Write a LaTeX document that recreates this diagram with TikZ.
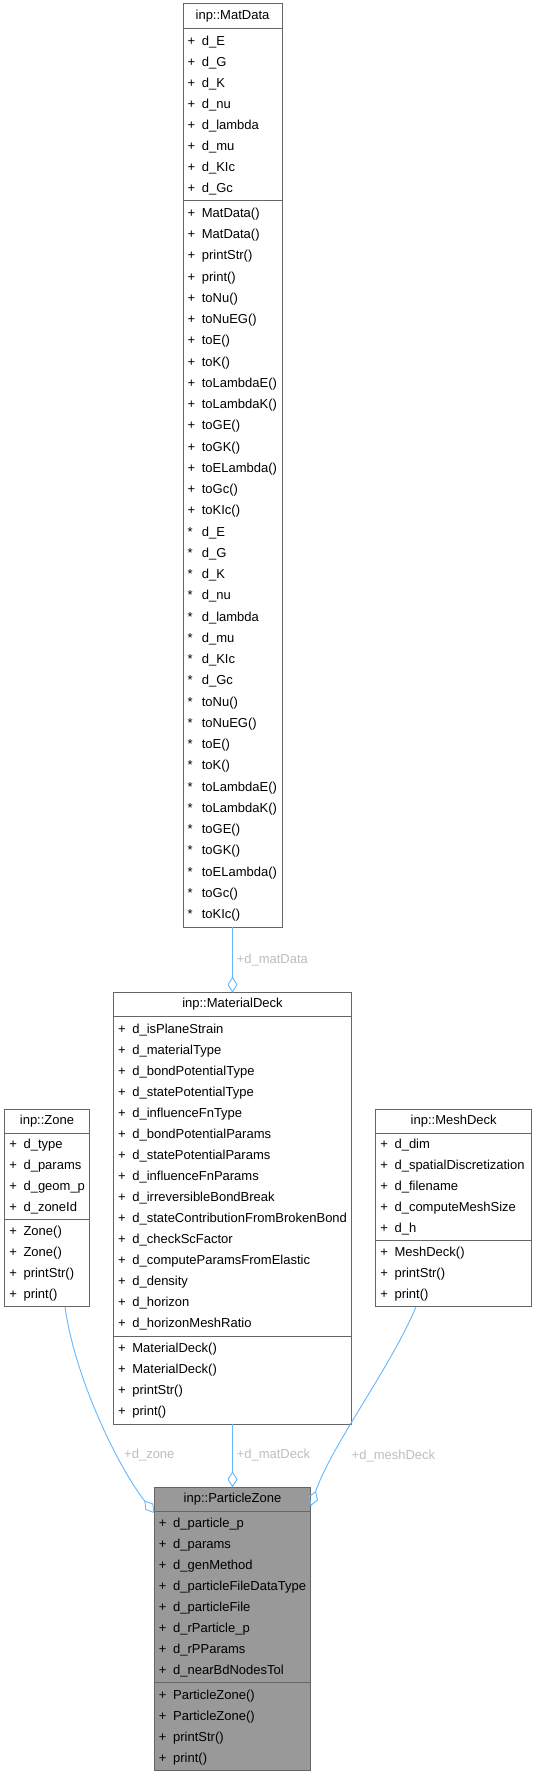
\documentclass[tikz,border=0pt]{standalone}
\usepackage{fontspec}
\setmainfont{Liberation Sans}
\usetikzlibrary{arrows.meta,calc}
\definecolor{bordergray}{HTML}{666666}
\definecolor{focusfill}{HTML}{999999}
\definecolor{edgeblue}{HTML}{63B8FF}
\definecolor{labelgray}{HTML}{BEBEBE}
\newlength\rowpitch
\newcommand\ml[2]{\makebox[14.2pt][l]{#1}#2\rule[-0.3\rowpitch]{0pt}{\rowpitch}}
\begin{document}
\begin{tikzpicture}[x=1pt,y=-1pt,
  box/.style={draw=bordergray, line width=1pt, fill=white, inner sep=0pt, outer sep=0pt,
    anchor=north west, font=\fontsize{13pt}{15pt}\selectfont},
  hdr/.style={box, align=center},
  sec/.style={box, inner xsep=4.65pt, inner ysep=0pt, align=left},
  rows/.style={execute at begin node={\setlength{\rowpitch}{#1}\fontsize{13pt}{#1}\selectfont}},
  focus/.style={fill=focusfill},
  edge/.style={draw=edgeblue, line width=0.9pt, -{Diamond[open,length=16pt,width=10pt]}},
  lbl/.style={anchor=west, inner sep=0pt, text=labelgray, font=\fontsize{13pt}{15pt}\selectfont}]
\useasboundingbox (0,0) rectangle (537,1776);
\fill[white] (0,0) rectangle (537,1776);

% inp::MatData
\node[hdr, minimum width=99pt, minimum height=25pt] (mdH) at (183,4) {inp::MatData};
\node[sec, minimum width=99pt, text width=89.7pt, minimum height=171.5pt, rows=21pt] (mdA) at (mdH.south west)
 {\ml{+}{d\_E}\\\ml{+}{d\_G}\\\ml{+}{d\_K}\\\ml{+}{d\_nu}\\\ml{+}{d\_lambda}\\\ml{+}{d\_mu}\\\ml{+}{d\_KIc}\\\ml{+}{d\_Gc}};
\node[sec, minimum width=99pt, text width=89.7pt, minimum height=726.5pt, rows=21.25pt] (mdM) at (mdA.south west)
 {\ml{+}{MatData()}\\\ml{+}{MatData()}\\\ml{+}{printStr()}\\\ml{+}{print()}\\\ml{+}{toNu()}\\\ml{+}{toNuEG()}\\\ml{+}{toE()}\\\ml{+}{toK()}\\\ml{+}{toLambdaE()}\\\ml{+}{toLambdaK()}\\\ml{+}{toGE()}\\\ml{+}{toGK()}\\\ml{+}{toELambda()}\\\ml{+}{toGc()}\\\ml{+}{toKIc()}\\
  \ml{*}{d\_E}\\\ml{*}{d\_G}\\\ml{*}{d\_K}\\\ml{*}{d\_nu}\\\ml{*}{d\_lambda}\\\ml{*}{d\_mu}\\\ml{*}{d\_KIc}\\\ml{*}{d\_Gc}\\
  \ml{*}{toNu()}\\\ml{*}{toNuEG()}\\\ml{*}{toE()}\\\ml{*}{toK()}\\\ml{*}{toLambdaE()}\\\ml{*}{toLambdaK()}\\\ml{*}{toGE()}\\\ml{*}{toGK()}\\\ml{*}{toELambda()}\\\ml{*}{toGc()}\\\ml{*}{toKIc()}};

% inp::MaterialDeck
\node[hdr, minimum width=238pt, minimum height=23.3pt] (mkH) at (113.5,992.7) {inp::MaterialDeck};
\node[sec, minimum width=238pt, text width=228.7pt, minimum height=320pt, rows=21pt] (mkA) at (mkH.south west)
 {\ml{+}{d\_isPlaneStrain}\\\ml{+}{d\_materialType}\\\ml{+}{d\_bondPotentialType}\\\ml{+}{d\_statePotentialType}\\\ml{+}{d\_influenceFnType}\\\ml{+}{d\_bondPotentialParams}\\\ml{+}{d\_statePotentialParams}\\\ml{+}{d\_influenceFnParams}\\\ml{+}{d\_irreversibleBondBreak}\\\ml{+}{d\_stateContributionFromBrokenBond}\\\ml{+}{d\_checkScFactor}\\\ml{+}{d\_computeParamsFromElastic}\\\ml{+}{d\_density}\\\ml{+}{d\_horizon}\\\ml{+}{d\_horizonMeshRatio}};
\node[sec, minimum width=238pt, text width=228.7pt, minimum height=88pt, rows=21pt] (mkM) at (mkA.south west)
 {\ml{+}{MaterialDeck()}\\\ml{+}{MaterialDeck()}\\\ml{+}{printStr()}\\\ml{+}{print()}};

% inp::Zone
\node[hdr, minimum width=84.6pt, minimum height=23.7pt] (zoH) at (4.7,1109.3) {inp::Zone};
\node[sec, minimum width=84.6pt, text width=75.3pt, minimum height=86pt, rows=21pt] (zoA) at (zoH.south west)
 {\ml{+}{d\_type}\\\ml{+}{d\_params}\\\ml{+}{d\_geom\_p}\\\ml{+}{d\_zoneId}};
\node[sec, minimum width=84.6pt, text width=75.3pt, minimum height=87.7pt, rows=21pt] (zoM) at (zoA.south west)
 {\ml{+}{Zone()}\\\ml{+}{Zone()}\\\ml{+}{printStr()}\\\ml{+}{print()}};

% inp::MeshDeck
\node[hdr, minimum width=156pt, minimum height=23.7pt] (meH) at (375.7,1109.3) {inp::MeshDeck};
\node[sec, minimum width=156pt, text width=146.7pt, minimum height=107.5pt, rows=21pt] (meA) at (meH.south west)
 {\ml{+}{d\_dim}\\\ml{+}{d\_spatialDiscretization}\\\ml{+}{d\_filename}\\\ml{+}{d\_computeMeshSize}\\\ml{+}{d\_h}};
\node[sec, minimum width=156pt, text width=146.7pt, minimum height=66.2pt, rows=21pt] (meM) at (meA.south west)
 {\ml{+}{MeshDeck()}\\\ml{+}{printStr()}\\\ml{+}{print()}};

% inp::ParticleZone
\node[hdr, focus, minimum width=156.4pt, minimum height=24.4pt] (pzH) at (154.3,1487.3) {inp::ParticleZone};
\node[sec, focus, minimum width=156.4pt, text width=147.1pt, minimum height=171pt, rows=21pt] (pzA) at (pzH.south west)
 {\ml{+}{d\_particle\_p}\\\ml{+}{d\_params}\\\ml{+}{d\_genMethod}\\\ml{+}{d\_particleFileDataType}\\\ml{+}{d\_particleFile}\\\ml{+}{d\_rParticle\_p}\\\ml{+}{d\_rPParams}\\\ml{+}{d\_nearBdNodesTol}};
\node[sec, focus, minimum width=156.4pt, text width=147.1pt, minimum height=87.3pt, rows=21pt] (pzM) at (pzA.south west)
 {\ml{+}{ParticleZone()}\\\ml{+}{ParticleZone()}\\\ml{+}{printStr()}\\\ml{+}{print()}};

% connectors
\draw[edge] (mdM.south) -- (mkH.north);
\draw[edge] (mkM.south) -- (pzH.north);
\draw[edge] ($(zoM.south)+(18,0)$) .. controls +(10,73.3) and +(-34.3,-43) .. ($(pzA.north west)+(0,1.3)$);
\draw[edge] ($(meM.south)+(-37.7,0)$) .. controls +(-25,60.3) and +(20.3,-60) .. ($(pzH.north east)+(0,18.7)$);

% labels
\node[lbl] (lmd) at (236.5,960) {+d\_matData};
\node[lbl] (lmk) at (236.5,1455.5) {+d\_matDeck};
\node[lbl] (lzo) at (124,1455.5) {+d\_zone};
\node[lbl] (lme) at (351.5,1456.5) {+d\_meshDeck};
\end{tikzpicture}
\end{document}
